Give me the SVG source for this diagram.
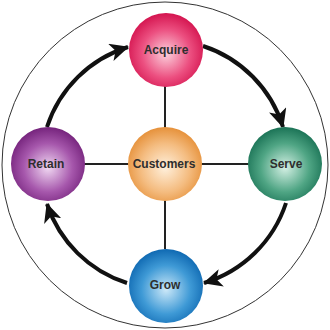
<svg xmlns="http://www.w3.org/2000/svg" width="330" height="330" viewBox="0 0 330 330">
<style>
.lbl{font-family:"Liberation Sans",Arial,sans-serif;font-weight:bold;font-size:12px;fill:#2e2e2e;text-anchor:middle}
.spoke{stroke:#222;stroke-width:2;fill:none}
.arc{stroke:#111;stroke-width:4;fill:none;marker-end:url(#ah)}
</style>
<defs>
<marker id="ah" markerUnits="userSpaceOnUse" markerWidth="22" markerHeight="18" refX="18" refY="9" orient="auto">
<path d="M0,0 L19,9 L0,18 L5,9 Z" fill="#111"/>
</marker>
<radialGradient id="gA" cx="50%" cy="55%" r="55%"><stop offset="0" stop-color="#fbd0dc"/><stop offset="0.6" stop-color="#ec4f80"/><stop offset="1" stop-color="#d4144f"/></radialGradient>
<radialGradient id="gR" cx="50%" cy="55%" r="55%"><stop offset="0" stop-color="#f0d8f2"/><stop offset="0.6" stop-color="#a657ac"/><stop offset="1" stop-color="#75237c"/></radialGradient>
<radialGradient id="gC" cx="50%" cy="55%" r="55%"><stop offset="0" stop-color="#fff0dc"/><stop offset="0.6" stop-color="#f4bc80"/><stop offset="1" stop-color="#e6913a"/></radialGradient>
<radialGradient id="gS" cx="50%" cy="55%" r="55%"><stop offset="0" stop-color="#d4f0e4"/><stop offset="0.6" stop-color="#4fa584"/><stop offset="1" stop-color="#1b7356"/></radialGradient>
<radialGradient id="gG" cx="50%" cy="55%" r="55%"><stop offset="0" stop-color="#cce8f8"/><stop offset="0.6" stop-color="#3f9ad6"/><stop offset="1" stop-color="#0f69b2"/></radialGradient>
</defs>
<rect width="330" height="330" fill="#fff"/>
<circle cx="165" cy="165" r="163" fill="none" stroke="#333" stroke-width="1"/>
<g id="connectors">
<line class="spoke" x1="165" y1="86" x2="165" y2="128"/>
<line class="spoke" x1="165" y1="200" x2="165" y2="249"/>
<line class="spoke" x1="84" y1="164" x2="129" y2="164"/>
<line class="spoke" x1="201" y1="164" x2="249" y2="164"/>
<path class="arc" d="M47,127 A124,124 0 0 1 128,47"/>
<path class="arc" d="M203,46 A124,124 0 0 1 283,127"/>
<path class="arc" d="M286,203 A124,124 0 0 1 204,283"/>
<path class="arc" d="M127,283 A124,124 0 0 1 47,204"/>
</g>
<g id="acquire"><circle cx="166" cy="50" r="37" fill="url(#gA)"/><text class="lbl" x="166" y="54">Acquire</text></g>
<g id="retain"><circle cx="48" cy="164" r="37" fill="url(#gR)"/><text class="lbl" x="46" y="168">Retain</text></g>
<g id="customers"><circle cx="165" cy="164" r="37" fill="url(#gC)"/><text class="lbl" x="164" y="168">Customers</text></g>
<g id="serve"><circle cx="285" cy="164" r="37" fill="url(#gS)"/><text class="lbl" x="286" y="168">Serve</text></g>
<g id="grow"><circle cx="166" cy="286" r="37" fill="url(#gG)"/><text class="lbl" x="165" y="289">Grow</text></g>
</svg>
